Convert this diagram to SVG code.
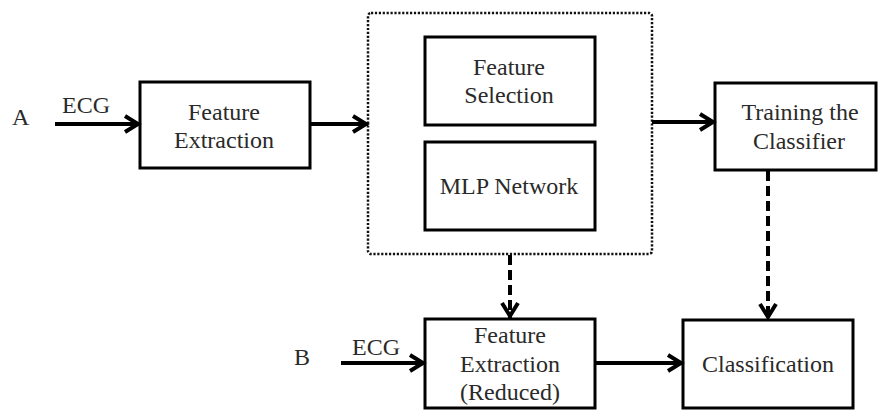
<svg xmlns="http://www.w3.org/2000/svg" width="879" height="410" viewBox="0 0 879 410" font-family="'Liberation Serif', 'DejaVu Serif', serif">
<style>
.box{fill:#fff;stroke:#000;stroke-width:3}
.dot{fill:none;stroke:#111;stroke-width:2.5;stroke-dasharray:2.2 1.7}
text{font-family:'Liberation Serif','DejaVu Serif',serif;font-size:24px;fill:#2a2a2a}
.t{text-anchor:middle}
.ln{fill:none;stroke:#000;stroke-width:4;marker-end:url(#ah)}
.dash{stroke-dasharray:10 5}
</style>
<defs>
<marker id="ah" markerUnits="userSpaceOnUse" markerWidth="26" markerHeight="26" refX="18" refY="11" orient="auto">
<path d="M3,3 L16,11 L3,19" fill="none" stroke="#000" stroke-width="4" stroke-dasharray="none" stroke-linejoin="miter"/>
</marker>
</defs>
<g id="labels">
<text x="12" y="125">A</text>
<text x="62" y="113">ECG</text>
<text x="294" y="365">B</text>
<text x="352" y="355">ECG</text>
</g>
<g id="group-box">
<rect x="368" y="13" width="284" height="241" rx="3" class="dot"/>
</g>
<g id="feature-extraction">
<rect x="140" y="82" width="170" height="86" class="box"/>
<text class="t" x="224" y="120">Feature</text>
<text class="t" x="224" y="148">Extraction</text>
</g>
<g id="feature-selection">
<rect x="425" y="37" width="170" height="88" class="box"/>
<text class="t" x="509" y="75">Feature</text>
<text class="t" x="509" y="103">Selection</text>
</g>
<g id="mlp-network">
<rect x="425" y="142" width="170" height="88" class="box"/>
<text class="t" x="509" y="194">MLP Network</text>
</g>
<g id="training">
<rect x="715" y="83" width="161" height="87" class="box"/>
<text class="t" x="800" y="120">Training the</text>
<text class="t" x="799" y="149">Classifier</text>
</g>
<g id="feature-extraction-reduced">
<rect x="425" y="319" width="170" height="89" class="box"/>
<text class="t" x="510" y="343">Feature</text>
<text class="t" x="510" y="372">Extraction</text>
<text class="t" x="510" y="400">(Reduced)</text>
</g>
<g id="classification">
<rect x="683" y="320" width="170" height="88" class="box"/>
<text class="t" x="768" y="372">Classification</text>
</g>
<g id="connectors">
<line class="ln" x1="55" y1="124" x2="140" y2="124"/>
<line class="ln" x1="310" y1="124" x2="368" y2="124"/>
<line class="ln" x1="652" y1="122" x2="715" y2="122"/>
<line class="ln dash" x1="768" y1="171" x2="768" y2="319"/>
<line class="ln dash" x1="510" y1="255" x2="510" y2="318"/>
<line class="ln" x1="341" y1="363" x2="425" y2="363"/>
<line class="ln" x1="595" y1="363" x2="683" y2="363"/>
</g>
</svg>
